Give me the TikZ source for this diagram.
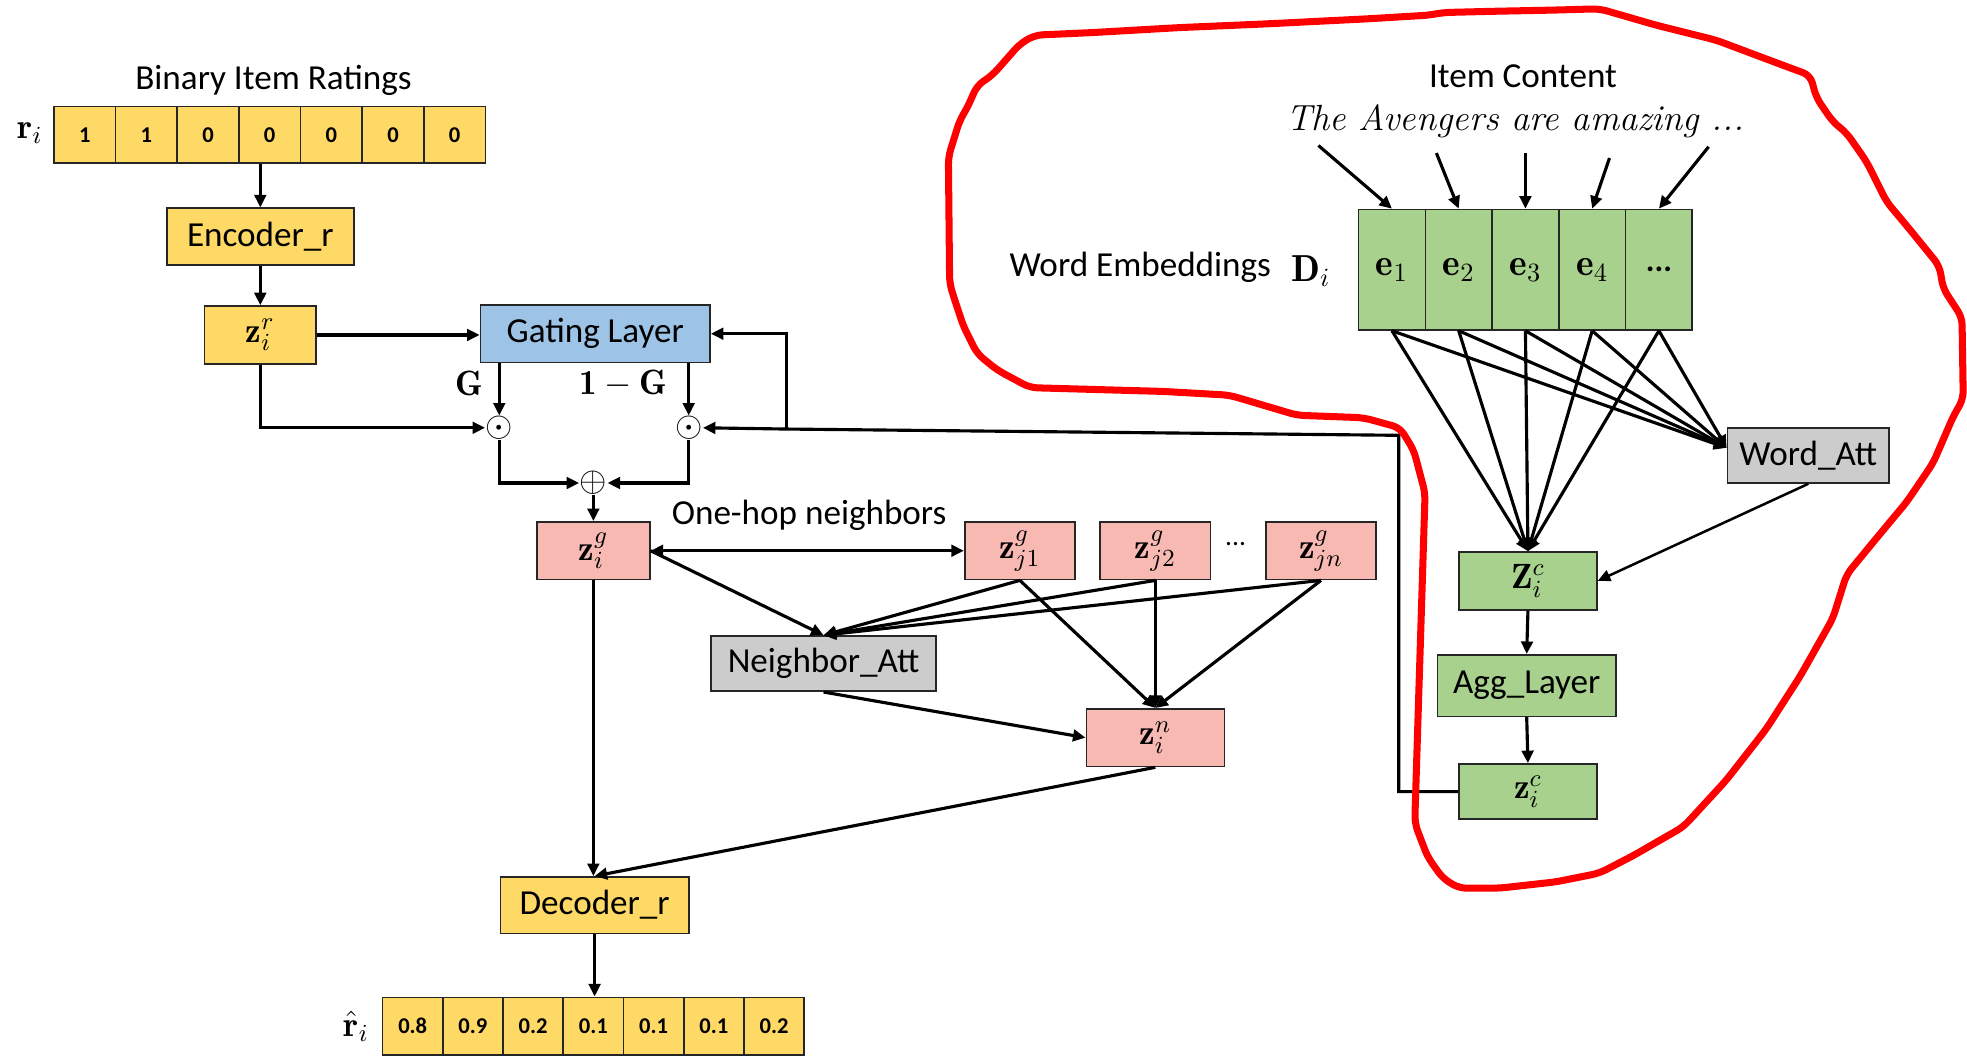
\documentclass[tikz,border=0pt]{standalone}
\usepackage{fix-cm}
\usepackage{fontspec}
\setsansfont{Carlito}
\usetikzlibrary{arrows.meta,calc}

\definecolor{cYellow}{HTML}{FFD966}
\definecolor{cBlue}{HTML}{9DC3E6}
\definecolor{cPink}{HTML}{F8B9B3}
\definecolor{cGreen}{HTML}{A9D18E}
\definecolor{cGray}{HTML}{CCCCCC}
\definecolor{cRed}{HTML}{FF0000}

\begin{document}
\begin{tikzpicture}[x=0.5pt,y=-0.5pt,
  every node/.style={font=\sffamily\fontsize{14}{16}\selectfont},
  box/.style={draw=black!85, line width=0.65pt, inner sep=0pt, anchor=center},
  ybox/.style={box, fill=cYellow},
  bbox/.style={box, fill=cBlue},
  pbox/.style={box, fill=cPink},
  gbox/.style={box, fill=cGreen},
  abox/.style={box, fill=cGray},
  cellnum/.style={font=\sffamily\bfseries\fontsize{9}{10}\selectfont},
  mathlbl/.style={font=\fontsize{14}{16}\selectfont},
  ecell/.style={gbox, font=\fontsize{15}{17}\selectfont, minimum width=26.6pt, minimum height=48pt},
  tip/.tip={Triangle[length=5pt,width=4.6pt]},
  arr/.style={-tip, line width=1.25pt},
  darr/.style={tip-tip, line width=1.25pt},
  outline/.style={draw=cRed, line width=2.8pt, line join=round, rounded corners=3pt},
]
\useasboundingbox (0,0) rectangle (1568,843);

% ---------- rating input ----------
\node (tbir) at (218,64) {Binary Item Ratings};
\node[mathlbl] (tri) at (24,106) {$\mathbf{r}_i$};
\foreach \v [count=\k from 0] in {1,1,0,0,0,0,0}
  \node[ybox, cellnum, minimum width=24.57pt, minimum height=22.5pt] (r\k) at ({43+49.14*(\k+0.5)},107.5) {\v};

\node[ybox, minimum width=74.5pt, minimum height=22.5pt] (enc) at (207.5,188.5) {Encoder\_r};
\node[ybox, mathlbl, minimum width=44.5pt, minimum height=23pt] (zir) at (207.5,267) {$\mathbf{z}_i^r$};
\node[bbox, minimum width=91.5pt, minimum height=23pt] (gate) at (474.5,266) {Gating Layer};

\draw[arr] (enc.north |- r3.south) -- (enc.north);
\draw[arr] (enc.south) -- (zir.north);
\draw[arr] (zir.east) -- (zir.east -| gate.west);

% ---------- gating ----------
\node[mathlbl, inner sep=0pt] (dot1) at (398,341) {$\odot$};
\node[mathlbl, inner sep=0pt] (dot2) at (549,341) {$\odot$};
\node[mathlbl, inner sep=0pt] (plus) at (473,385) {$\oplus$};
\node[mathlbl] (lg) at (374,306) {$\mathbf{G}$};
\node[mathlbl] (l1g) at (497,306) {$\mathbf{1-G}$};

\draw[arr] (gate.south -| dot1) -- (dot1.north);
\draw[arr] (gate.south -| dot2) -- (dot2.north);
\draw[arr] (zir.south) |- (dot1.west);
\draw[arr] (dot1.south) |- (plus.west);
\draw[arr] (dot2.south) |- (plus.east);

% ---------- neighbourhood ----------
\node[pbox, mathlbl, minimum width=45pt, minimum height=23pt] (zig) at (473,439) {$\mathbf{z}_i^g$};
\node[pbox, mathlbl, minimum width=44pt, minimum height=23pt] (zj1) at (813,439) {$\mathbf{z}_{j1}^g$};
\node[pbox, mathlbl, minimum width=44pt, minimum height=23pt] (zj2) at (921,439) {$\mathbf{z}_{j2}^g$};
\node[pbox, mathlbl, minimum width=44pt, minimum height=23pt] (zjn) at (1053,439) {$\mathbf{z}_{jn}^g$};
\node[font=\sffamily\fontsize{11}{12}\selectfont] (tdots) at (985,434) {...};
\node (tonehop) at (645,411) {One-hop neighbors};
\node[abox, minimum width=89.5pt, minimum height=22pt] (natt) at (656.5,529) {Neighbor\_Att};
\node[pbox, mathlbl, minimum width=55pt, minimum height=23pt] (zin) at (921,588) {$\mathbf{z}_i^n$};

\draw[arr] (plus.south) -- (zig.north);
\draw[darr] (zig.east) -- (zj1.west);
\draw[arr] (zig.east) -- (natt.north);
\foreach \n in {zj1,zj2,zjn} {
  \draw[arr] (\n.south) -- (natt.north);
  \draw[arr] (\n.south) -- (zin.north);
}
\draw[arr] (natt.south) -- (zin.west);

% ---------- decoder ----------
\node[ybox, minimum width=75pt, minimum height=22.5pt] (dec) at (474,721.5) {Decoder\_r};
\node[mathlbl] (trh) at (284,818) {$\hat{\mathbf{r}}_i$};
\foreach \v [count=\k from 0] in {0.8,0.9,0.2,0.1,0.1,0.1,0.2}
  \node[ybox, cellnum, minimum width=24pt, minimum height=23pt] (o\k) at ({305+48*(\k+0.5)},818) {\v};

\draw[arr] (zig.south) -- (zig.south |- dec.north);
\draw[arr] (zin.south) -- (dec.north);
\draw[arr] (dec.south) -- (dec.south |- o3.north);

% ---------- item content ----------
\node (tic) at (1214,61) {Item Content};
\node[font=\rmfamily\itshape\fontsize{14.5}{16}\selectfont] (tsent) at (1208,97) {The Avengers are amazing ...};
\node (twe) at (909,213) {Word Embeddings};
\node[font=\fontsize{15}{17}\selectfont] (tD) at (1045,216) {$\mathbf{D}_i$};

\node[ecell] (e1) at (1109.6,215) {$\mathbf{e}_1$};
\node[ecell] (e2) at (1162.8,215) {$\mathbf{e}_2$};
\node[ecell] (e3) at (1216.0,215) {$\mathbf{e}_3$};
\node[ecell] (e4) at (1269.2,215) {$\mathbf{e}_4$};
\node[ecell, font=\sffamily\bfseries\fontsize{13}{15}\selectfont] (e5) at (1322.4,215) {\raisebox{-1.5pt}{...}};

\coordinate (s1) at (1051,116);
\coordinate (s2) at (1145,122);
\coordinate (s3) at (1216,122);
\coordinate (s4) at (1283,126);
\coordinate (s5) at (1362,117);
\foreach \k in {1,2,3,4,5}
  \draw[arr] (s\k) -- (e\k.north);

\node[abox, minimum width=64.5pt, minimum height=22pt] (watt) at (1441.5,363) {Word\_Att};
\node[gbox, mathlbl, minimum width=55pt, minimum height=23pt] (zic) at (1218,463) {$\mathbf{Z}_i^c$};
\node[gbox, minimum width=71pt, minimum height=24.5pt] (agg) at (1217,546.5) {Agg\_Layer};
\node[gbox, mathlbl, minimum width=55pt, minimum height=22pt] (zic2) at (1218,631) {$\mathbf{z}_i^c$};

\foreach \k in {1,2,3,4,5} {
  \draw[arr] (e\k.south) -- (zic.north);
  \draw[arr] (e\k.south) -- ([yshift=3pt]watt.west);
}
\draw[arr, line width=1pt] (watt.south) -- (zic.east);
\draw[arr] (zic.south) -- (agg.north);
\draw[arr] (agg.south) -- (zic2.north);

% ---------- content vector fed back to the gate ----------
\coordinate (c1) at (1115,347);
\coordinate (c2) at (627,342);
\draw[arr] (zic2.west) -| (c1) -- (c2) -- (dot2.east);
\draw[arr] (c2) |- (gate.east);

% ---------- hand-drawn outline around the content module ----------
\draw[outline] (825,28) -- (870,26) -- (940,22) -- (1010,19) -- (1090,15) -- (1140,12)
  -- (1150,10) -- (1190,9) -- (1240,8) -- (1275,7) -- (1320,20) -- (1368,32)
  -- (1424,53) -- (1443,60) -- (1448,78) -- (1461,97) -- (1472,106) -- (1488,129)
  -- (1504,161) -- (1520,180) -- (1546,212) -- (1549,230) -- (1564,253) -- (1565,318)
  -- (1557,332) -- (1541,369) -- (1520,400) -- (1495,430) -- (1472,458) -- (1461,493)
  -- (1435,539) -- (1408,581) -- (1376,622) -- (1342,659) -- (1302,682) -- (1275,696)
  -- (1240,703) -- (1195,708) -- (1163,708) -- (1150,700) -- (1138,683) -- (1128,657)
  -- (1128,648) -- (1130,584) -- (1136,393) -- (1127,359) -- (1116,341) -- (1087,333)
  -- (1034,331) -- (980,315) -- (927,312) -- (821,309) -- (795,295) -- (779,282)
  -- (768,260) -- (761,239) -- (757,226) -- (756,125) -- (765,96) -- (771,86)
  -- (779,68) -- (791,60) -- (813,35) -- cycle;
\end{tikzpicture}
\end{document}
